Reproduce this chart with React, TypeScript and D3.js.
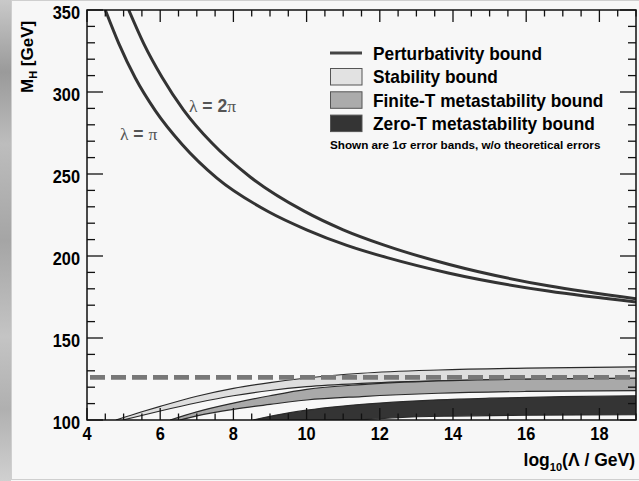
import React from "react";
import * as d3 from "d3";

// ---- data (log10(Lambda/GeV), M_H [GeV]) ----
const lambdaPi: [number, number][] = [
  [4.5, 350], [4.87, 329.5], [5.32, 308.5], [5.87, 288.5], [6.6, 268], [7.55, 247.5],
  [8.96, 227], [10, 216], [11.1, 206.5], [12.2, 199], [13.9, 189.5], [16.6, 178.6], [19, 172],
];
const lambda2Pi: [number, number][] = [
  [5.14, 350], [5.55, 329.5], [6.05, 309], [6.64, 289], [7.42, 268.7], [8.46, 248.2],
  [9.92, 227.5], [11, 216], [12.1, 206.8], [13.9, 194.8], [16.6, 181.8], [19, 174],
];
const stabUpper: [number, number][] = [
  [4.79, 100], [5.5, 105], [6, 108.3], [7, 114.5], [8, 119.3], [9, 122.8],
  [10, 125.6], [11.5, 128.5], [13.6, 130.5], [16, 131.6], [19, 132.4],
];
const stabLower: [number, number][] = [
  [4.98, 100], [6, 105.5], [7, 110.5], [8, 114.8], [9, 118], [10, 120.3],
  [11.5, 122.3], [13.6, 123.8], [16, 124.8], [19, 125.3],
];
const finiteUpper: [number, number][] = [
  [6.27, 100], [7, 105], [8, 110.3], [9, 114.8], [10, 118.7], [11.5, 121.6],
  [13.6, 123.8], [16, 124.9], [19, 125.5],
];
const finiteLower: [number, number][] = [
  [6.54, 100], [7, 102.5], [8, 106.5], [9, 109.5], [10, 112.2], [11.5, 114.3],
  [13.6, 116.3], [16, 117.4], [19, 117.9],
];
const zeroUpper: [number, number][] = [
  [8.54, 100], [9.55, 104.5], [10, 106], [11, 108.5], [12, 110.3], [13.6, 112.3],
  [15, 113.3], [17, 114.2], [19, 114.8],
];
const zeroLower: [number, number][] = [
  [11.4, 100], [12.5, 101.5], [14, 102.4], [16, 102.9], [19, 103.2],
];
const higgsMass = 126;

const xTickLabels = [4, 6, 8, 10, 12, 14, 16, 18];
const yTickLabels = [100, 150, 200, 250, 300, 350];
const xDomain: [number, number] = [4, 19];
const yDomain: [number, number] = [100, 350];

const legendLabels = [
  "Perturbativity bound",
  "Stability bound",
  "Finite-T metastability bound",
  "Zero-T metastability bound",
];
const legendNote = "Shown are 1\u03c3 error bands, w/o theoretical errors";

// ---- layout ----
const W = 639;
const H = 481;
const L = 87, R = 636, T = 10, B = 420;
const FONT = "'Liberation Sans', Arial, Helvetica, sans-serif";

export default function App() {
  const x = d3.scaleLinear().domain(xDomain).range([L, R]);
  const y = d3.scaleLinear().domain(yDomain).range([B, T]);
  const line = d3
    .line<[number, number]>()
    .x((d) => x(d[0]))
    .y((d) => y(d[1]))
    .curve(d3.curveMonotoneX);

  const band = (up: [number, number][], lo: [number, number][]) => {
    const a = line(up) || "";
    const b = (line(lo.slice().reverse()) || "").replace(/^M/, "L");
    return a + b + "Z";
  };

  const minorX = d3.range(xDomain[0], xDomain[1] + 0.001, 0.5);
  const minorY = d3.range(yDomain[0], yDomain[1] + 0.001, 10);

  const bands = [
    { up: stabUpper, lo: stabLower, fill: "#dedede" },
    { up: finiteUpper, lo: finiteLower, fill: "#a9a9a9" },
    { up: zeroUpper, lo: zeroLower, fill: "#343434" },
  ];
  const legendFills = ["#e2e2e2", "#ababab", "#343434"];

  return (
    <svg
      width={W}
      height={H}
      style={{ position: "absolute", left: 0, top: 0, display: "block" }}
      fontFamily={FONT}
    >
      <defs>
        <linearGradient id="stone" x1="0" y1="0" x2="0" y2="1">
          <stop offset="0" stopColor="#c9c9c9" />
          <stop offset="0.15" stopColor="#9a9a9a" />
          <stop offset="0.3" stopColor="#bdbdbd" />
          <stop offset="0.5" stopColor="#a5a5a5" />
          <stop offset="0.7" stopColor="#c4c4c4" />
          <stop offset="0.85" stopColor="#b0b0b0" />
          <stop offset="1" stopColor="#d0d0d0" />
        </linearGradient>
        <clipPath id="plotclip">
          <rect x={L} y={T} width={R - L} height={B - T} />
        </clipPath>
        <filter id="blur" x="-10%" y="-200%" width="120%" height="500%">
          <feGaussianBlur stdDeviation="2.2" />
        </filter>
      </defs>

      {/* page background */}
      <rect x={0} y={0} width={W} height={H} fill="#f7f7f7" />
      <rect x={0} y={0} width={11} height={H} fill="url(#stone)" />
      <rect x={11.5} y={0.5} width={W - 11} height={H - 2} fill="none" stroke="#cfcfcf" />

      {/* plot content */}
      <g clipPath="url(#plotclip)">
        {bands.map((bd, i) => (
          <g key={i}>
            <path d={band(bd.up, bd.lo)} fill={bd.fill} />
            <path d={line(bd.up) || ""} fill="none" stroke="#2a2a2a" strokeWidth={1.2} />
            <path d={line(bd.lo) || ""} fill="none" stroke="#2a2a2a" strokeWidth={1.2} />
          </g>
        ))}
        {/* dashed Higgs mass line with blurred shadow */}
        <line
          x1={x(xDomain[0]) + 3}
          x2={x(xDomain[1])}
          y1={y(higgsMass) + 5}
          y2={y(higgsMass) + 5}
          stroke="#9a9a9a"
          strokeWidth={6}
          strokeDasharray="15 6"
          opacity={0.7}
          filter="url(#blur)"
        />
        <line
          x1={x(xDomain[0]) + 3}
          x2={x(xDomain[1])}
          y1={y(higgsMass)}
          y2={y(higgsMass)}
          stroke="#787878"
          strokeWidth={4.8}
          strokeDasharray="15 6"
        />
        {/* perturbativity bounds */}
        <path d={line(lambdaPi) || ""} fill="none" stroke="#333" strokeWidth={3} />
        <path d={line(lambda2Pi) || ""} fill="none" stroke="#333" strokeWidth={3} />
      </g>

      {/* curve labels */}
      <text x={120} y={140} fill="#555" fontSize={17.5}>
        <tspan fontFamily="'Liberation Serif', serif">{"\u03bb"}</tspan>
        <tspan fontWeight="bold">{" = "}</tspan>
        <tspan fontFamily="'Liberation Serif', serif">{"\u03c0"}</tspan>
      </text>
      <text x={189} y={112} fill="#555" fontSize={17.5}>
        <tspan fontFamily="'Liberation Serif', serif">{"\u03bb"}</tspan>
        <tspan fontWeight="bold">{" = 2"}</tspan>
        <tspan fontFamily="'Liberation Serif', serif">{"\u03c0"}</tspan>
      </text>

      {/* frame */}
      <rect x={L} y={T} width={R - L} height={B - T} fill="none" stroke="#111" strokeWidth={1.5} />

      {/* ticks */}
      {minorX.map((v) => {
        const major = Math.abs(v % 2) < 1e-6;
        const len = major ? 12 : 6.5;
        return (
          <g key={"xt" + v} stroke="#111" strokeWidth={1.3}>
            <line x1={x(v)} x2={x(v)} y1={B} y2={B - len} />
            <line x1={x(v)} x2={x(v)} y1={T} y2={T + len} />
          </g>
        );
      })}
      {minorY.map((v) => {
        const major = v % 50 === 0;
        const len = major ? 16 : 8;
        return (
          <g key={"yt" + v} stroke="#111" strokeWidth={1.3}>
            <line x1={L} x2={L + len} y1={y(v)} y2={y(v)} />
            <line x1={R} x2={R - len} y1={y(v)} y2={y(v)} />
          </g>
        );
      })}

      {/* tick labels */}
      {yTickLabels.map((v) => (
        <text
          key={"yl" + v}
          transform={`translate(80,${y(v) + 8.7}) scale(0.93,1)`}
          textAnchor="end"
          fontSize={17.6}
          fontWeight="bold"
          fill="#000"
        >
          {v}
        </text>
      ))}
      {xTickLabels.map((v) => (
        <text
          key={"xl" + v}
          transform={`translate(${x(v)},440) scale(0.93,1)`}
          textAnchor="middle"
          fontSize={17.6}
          fontWeight="bold"
          fill="#000"
        >
          {v}
        </text>
      ))}

      {/* axis titles */}
      <text
        transform="translate(33,93) rotate(-90)"
        fontSize={17}
        fontWeight="bold"
        fill="#000"
      >
        M<tspan fontSize={11} dy={4}>H</tspan>
        <tspan dy={-4}>{" [GeV]"}</tspan>
      </text>
      <text x={635} y={466} textAnchor="end" fontSize={17.5} fontWeight="bold" fill="#000">
        log<tspan fontSize={11} dy={5}>10</tspan>
        <tspan dy={-5}>{"(\u039b / GeV)"}</tspan>
      </text>

      {/* legend */}
      <line x1={330} x2={362} y1={53} y2={53} stroke="#444" strokeWidth={3} />
      {legendFills.map((f, i) => (
        <rect
          key={"lf" + i}
          x={330.5}
          y={68.5 + i * 23.3}
          width={31.5}
          height={16.5}
          fill={f}
          stroke="#555"
          strokeWidth={1}
        />
      ))}
      {legendLabels.map((t, i) => (
        <text
          key={"lt" + i}
          transform={`translate(373,${60 + i * 23.3}) scale(0.92,1)`}
          fontSize={18.8}
          fontWeight="bold"
          fill="#000"
        >
          {t}
        </text>
      ))}
      <text x={330} y={149} fontSize={11.7} fontWeight="bold" fill="#000">
        {legendNote}
      </text>
    </svg>
  );
}
